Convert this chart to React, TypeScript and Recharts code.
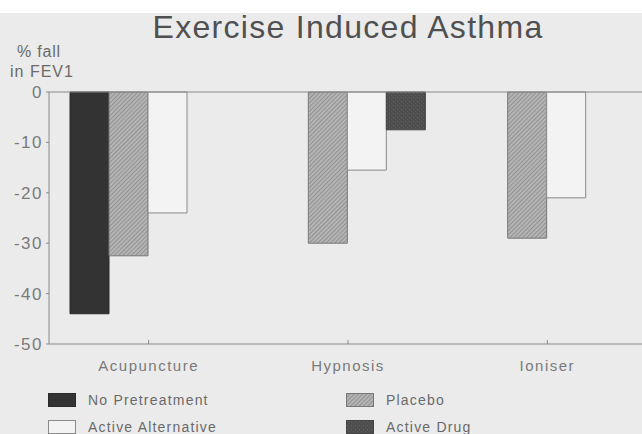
import React from 'react';
import { BarChart, Bar, XAxis, YAxis, ReferenceLine, Legend } from 'recharts';

const categories = ['Acupuncture', 'Hypnosis', 'Ioniser'];
const noPretreatment = [-44, null, null];
const placebo = [-32.5, -30, -29];
const activeAlternative = [-24, -15.5, -21];
const activeDrug = [null, -7.5, null];
const yTicks = [0, -10, -20, -30, -40, -50];

const series = [
  { key: 'noPretreatment', name: 'No Pretreatment', fill: '#333333', stroke: '#2a2a2a' },
  { key: 'placebo', name: 'Placebo', fill: 'url(#hatch)', stroke: '#777777' },
  { key: 'activeAlternative', name: 'Active Alternative', fill: '#f3f3f3', stroke: '#8a8a8a' },
  { key: 'activeDrug', name: 'Active Drug', fill: 'url(#drug)', stroke: '#444444' },
];

const data = categories.map((c, i) => ({
  name: c,
  noPretreatment: noPretreatment[i],
  placebo: placebo[i],
  activeAlternative: activeAlternative[i],
  activeDrug: activeDrug[i],
}));

const font = '"Liberation Sans", Arial, sans-serif';

const LegendBox = () => (
  <div style={{ position: 'relative', width: 642, height: 44, fontFamily: font }}>
    {series.map((s, i) => {
      const col = i % 2;
      const row = Math.floor(i / 2);
      const left = col === 0 ? 48 : 346;
      const top = row === 0 ? 3 : 30;
      return (
        <div key={s.key} style={{ position: 'absolute', left, top, height: 14, display: 'flex', alignItems: 'center' }}>
          <svg width={28} height={14} style={{ display: 'block' }}>
            <rect x={0.5} y={0.5} width={27} height={13} fill={s.fill} stroke={s.stroke} />
          </svg>
          <span style={{ marginLeft: 12, fontSize: 14, letterSpacing: 1.2, color: '#6a6a6a', whiteSpace: 'nowrap', lineHeight: '14px' }}>
            {s.name}
          </span>
        </div>
      );
    })}
  </div>
);

export default function App() {
  return (
    <div style={{ position: 'absolute', left: 0, top: 0, width: 642, height: 434, overflow: 'hidden', background: '#ffffff' }}>
      <div style={{ position: 'absolute', left: 0, right: 0, top: 13, bottom: 0, background: '#ebebeb' }} />
      <div style={{ position: 'absolute', left: 348, top: 9, transform: 'translateX(-50%)', whiteSpace: 'nowrap', fontFamily: font, fontSize: 32, letterSpacing: 1.3, color: '#505050' }}>
        Exercise Induced Asthma
      </div>
      <div style={{ position: 'absolute', left: 17, top: 43, fontFamily: font, fontSize: 16, letterSpacing: 0.8, color: '#6a6a6a', whiteSpace: 'nowrap' }}>% fall</div>
      <div style={{ position: 'absolute', left: 10, top: 63, fontFamily: font, fontSize: 16, letterSpacing: 1, color: '#6a6a6a', whiteSpace: 'nowrap' }}>in FEV1</div>
      <div style={{ position: 'absolute', left: 0, top: 0 }}>
        <BarChart
          width={650}
          height={434}
          data={data}
          margin={{ top: 92, right: 3, bottom: 60, left: 0 }}
          barCategoryGap={21}
          barGap={0}
        >
          <defs>
            <pattern id="hatch" width="3" height="3" patternUnits="userSpaceOnUse" patternTransform="rotate(45)">
              <rect width="3" height="3" fill="#b4b4b4" />
              <line x1="0" y1="0" x2="0" y2="3" stroke="#7c7c7c" strokeWidth="1.2" />
            </pattern>
            <pattern id="drug" width="4" height="4" patternUnits="userSpaceOnUse">
              <rect width="4" height="4" fill="#4e4e4e" />
              <rect x="1" y="1" width="1" height="1" fill="#626262" />
              <rect x="3" y="3" width="1" height="1" fill="#5a5a5a" />
            </pattern>
          </defs>
          <XAxis
            dataKey="name"
            height={30}
            axisLine={{ stroke: '#8a8a8a' }}
            tickLine={{ stroke: '#8a8a8a' }}
            tickSize={-4}
            tickMargin={20}
            tick={{ fill: '#7a7a7a', fontSize: 15, fontFamily: font, letterSpacing: 1.5 }}
          />
          <YAxis
            width={49}
            domain={[-50, 0]}
            ticks={yTicks}
            interval={0}
            axisLine={{ stroke: '#8a8a8a' }}
            tickLine={{ stroke: '#8a8a8a' }}
            tickSize={3}
            tickMargin={3}
            tick={{ fill: '#7a7a7a', fontSize: 17, fontFamily: font, letterSpacing: 1.5 }}
          />
          <ReferenceLine y={0} stroke="#8a8a8a" />
          {series.map((s) => (
            <Bar
              key={s.key}
              dataKey={s.key}
              name={s.name}
              fill={s.fill}
              stroke={s.stroke}
              strokeWidth={1}
              isAnimationActive={false}
            />
          ))}
          <Legend
            layout="horizontal"
            verticalAlign="middle"
            align="center"
            wrapperStyle={{ top: 390, left: 0, width: 642, height: 44 }}
            content={() => <LegendBox />}
          />
        </BarChart>
      </div>
    </div>
  );
}
